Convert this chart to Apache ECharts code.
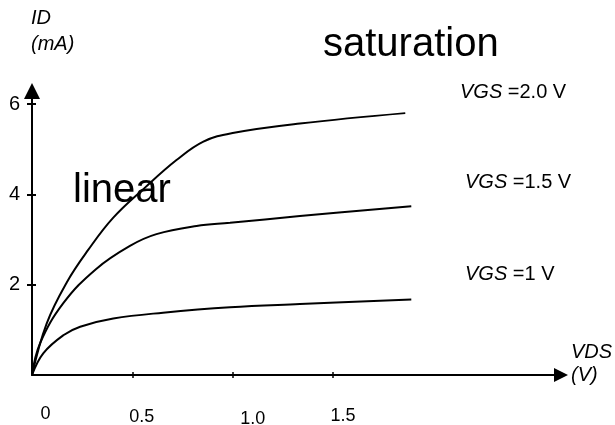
<!DOCTYPE html>
<html><head><meta charset="utf-8">
<script src="https://cdn.jsdelivr.net/npm/echarts@6/dist/echarts.min.js"></script>
<style>html,body{margin:0;padding:0;background:#fff}#c{width:615px;height:425px}</style>
</head><body><div id="c"></div>
<script>
// ---- data ----
const vgsNames = ['VGS =2.0 V', 'VGS =1.5 V', 'VGS =1 V'];
const vdsA = [0, 0.073, 0.173, 0.28, 0.404, 0.563, 0.72, 0.854, 1.0, 1.335, 1.86];
const idA  = [0, 1.14, 2.05, 2.77, 3.48, 4.15, 4.76, 5.17, 5.36, 5.57, 5.8];
const vdsB = [0, 0.04, 0.156, 0.32, 0.488, 0.62, 0.82, 0.987, 1.335, 1.89];
const idB  = [0, 0.7, 1.59, 2.35, 2.86, 3.12, 3.30, 3.37, 3.52, 3.74];
const vdsC = [0, 0.056, 0.156, 0.24, 0.405, 0.653, 0.987, 1.335, 1.89];
const idC  = [0, 0.48, 0.88, 1.07, 1.25, 1.38, 1.5, 1.57, 1.67];
const xTickValues = [0, 0.5, 1, 1.5];
const xTickLabels = ['0', '0.5', '1.0', '1.5'];
const yTickValues = [2, 4, 6];
const yTickLabels = ['2', '4', '6'];

const FONT = '"Liberation Sans", Arial, Helvetica, sans-serif';
const zip = (xs, ys) => xs.map((x, i) => [x, ys[i]]);

const xPads = [[0,0,0,27],[3,0,0,19],[5,0,0,40],[2,0,0,20]];
const rich = {};
xTickLabels.forEach((t, i) => {
  rich['t' + i] = {fontSize: 18, fontFamily: FONT, color: '#000', padding: xPads[i]};
});

const chart = echarts.init(document.getElementById('c'), null, {renderer: 'canvas'});
const lineSeries = (name, data) => ({
  name, type: 'line', data, smooth: 0.4, showSymbol: false, symbol: 'none',
  lineStyle: {color: '#000', width: 2}, xAxisIndex: 0, yAxisIndex: 0, silent: true, animation: false
});

const tstyle = (size, extra) => Object.assign({fontSize: size, fontFamily: FONT, color: '#000', fontWeight: 'normal'}, extra || {});
const vgsRich = {i: {fontStyle: 'italic', fontSize: 20, fontFamily: FONT, color: '#000'}};

chart.setOption({
  animation: false,
  backgroundColor: '#fff',
  grid: {left: 32, right: 54, top: 91, bottom: 50, containLabel: false, outerBoundsMode: 'none'},
  title: [
    {text: 'ID\n(mA)', left: 31, top: 5, padding: 0, textStyle: tstyle(20, {fontStyle: 'italic', lineHeight: 26})},
    {text: 'saturation', left: 323, top: 25, padding: 0, textStyle: tstyle(40)},
    {text: 'linear', left: 73, top: 171, padding: 0, textStyle: tstyle(40)},
    {text: 'VDS\n(V)', left: 571, top: 341, padding: 0, textStyle: tstyle(20, {fontStyle: 'italic', lineHeight: 23})},
    {text: '{i|VGS} =2.0 V', left: 460, top: 82, padding: 0, textStyle: tstyle(20, {rich: vgsRich})},
    {text: '{i|VGS} =1.5 V', left: 465, top: 172, padding: 0, textStyle: tstyle(20, {rich: vgsRich})},
    {text: '{i|VGS} =1 V', left: 465, top: 264, padding: 0, textStyle: tstyle(20, {rich: vgsRich})}
  ],
  xAxis: [
    {type: 'value', min: 0, max: 2.636, position: 'bottom',
     axisLine: {show: true, onZero: false, symbol: ['none', 'triangle'], symbolSize: [14, 14], lineStyle: {color: '#000', width: 2}},
     axisTick: {show: true, inside: false, length: 3, customValues: [0.5, 1, 1.5], lineStyle: {color: '#000', width: 1.5}},
     axisLabel: {show: true, margin: 30, customValues: xTickValues, verticalAlign: 'top', align: 'center',
       fontSize: 18, fontFamily: FONT, color: '#000',
       formatter: v => { const i = xTickValues.indexOf(v); return i < 0 ? '' : '{t' + i + '|' + xTickLabels[i] + '}'; },
       rich: rich},
     splitLine: {show: false}},
    {type: 'value', min: 0, max: 2.636, position: 'bottom',
     axisLine: {show: false, onZero: false},
     axisTick: {show: true, inside: true, length: 3, customValues: [0.5, 1, 1.5], lineStyle: {color: '#000', width: 1.5}},
     axisLabel: {show: false}, splitLine: {show: false}}
  ],
  yAxis: [
    {type: 'value', min: 0, max: 6.29, position: 'left',
     axisLine: {show: true, onZero: false, symbol: ['none', 'triangle'], symbolSize: [16, 16], lineStyle: {color: '#000', width: 2}},
     axisTick: {show: true, inside: false, length: 5, customValues: yTickValues, lineStyle: {color: '#000', width: 2}},
     axisLabel: {show: true, margin: 12, customValues: yTickValues, padding: [18, 0, 0, 0],
       formatter: v => { const i = yTickValues.indexOf(v); return i < 0 ? '' : yTickLabels[i]; },
       fontSize: 20, fontFamily: FONT, color: '#000'},
     splitLine: {show: false}},
    {type: 'value', min: 0, max: 6.29, position: 'left',
     axisLine: {show: false, onZero: false},
     axisTick: {show: true, inside: true, length: 4, customValues: yTickValues, lineStyle: {color: '#000', width: 2}},
     axisLabel: {show: false}, splitLine: {show: false}}
  ],
  series: [
    lineSeries(vgsNames[0], zip(vdsA, idA)),
    lineSeries(vgsNames[1], zip(vdsB, idB)),
    lineSeries(vgsNames[2], zip(vdsC, idC))
  ]
});
</script>
</body></html>
